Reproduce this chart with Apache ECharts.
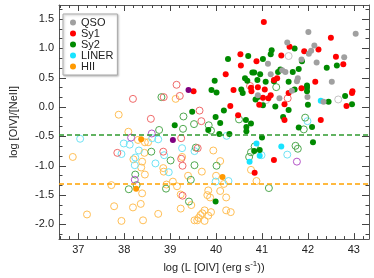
<!DOCTYPE html>
<html><head><meta charset="utf-8">
<script src="https://cdn.jsdelivr.net/npm/echarts@6/dist/echarts.min.js"></script>
<style>html,body{margin:0;padding:0;background:#fff}#c{width:374px;height:278px}</style>
</head><body><div id="c"></div>
<script>
// ---- data ----
const xTickLabels = [37, 38, 39, 40, 41, 42, 43];
const yTickLabels = [-2.0, -1.5, -1.0, -0.5, 0.0, 0.5, 1.0, 1.5];
const refLines = [-0.47, -1.31];

const qsoFilled = [[41.55,1.10],[42.01,1.28],[43.04,1.25],[42.14,1.05],[42.07,0.96],[42.02,0.91],[42.79,0.85],[41.86,0.81],[42.19,0.76],[41.13,0.74],[41.19,0.56],[41.44,0.63],[41.51,0.60],[41.78,0.49],[41.76,0.44],[42.52,0.43],[41.65,0.28],[40.91,0.20],[41.38,0.15],[41.99,0.17],[42.34,0.09]];
const qsoOpen = [[41.58,0.87],[42.66,0.13],[41.09,0.12]];

const sy1Filled = [[41.04,1.45],[41.60,1.03],[42.50,1.18],[42.23,0.98],[41.92,0.95],[40.53,0.90],[41.42,0.88],[42.61,0.86],[40.88,0.78],[40.54,0.71],[42.77,0.73],[40.21,0.56],[39.51,0.27],[40.38,0.29],[40.76,0.33],[40.77,0.27],[40.91,0.34],[41.06,0.30],[41.33,0.49],[41.26,0.46],[42.16,0.43],[41.86,0.32],[41.58,0.24],[41.19,0.20],[41.14,0.15],[41.02,0.16],[40.94,0.04],[41.49,0.05],[42.97,0.27],[42.96,0.24],[42.84,0.02],[40.31,0.02],[40.48,-0.14],[41.49,-0.22],[42.28,-0.22],[41.26,-0.90],[40.84,-1.12]];
const sy1Open = [[39.14,0.38],[39.21,0.19],[38.86,0.17],[38.19,0.14],[39.64,-0.06],[39.68,-0.24],[38.58,-0.20],[39.24,-0.53],[37.85,-0.78],[38.85,-0.76],[39.24,-0.88],[39.27,-1.00],[39.27,-1.51],[39.60,-0.70],[40.74,0.36],[41.56,0.15]];

const sy2Filled = [[41.71,1.00],[41.21,0.97],[41.19,0.90],[40.70,0.87],[40.26,0.82],[41.02,0.82],[41.87,0.78],[42.41,0.67],[42.63,0.71],[40.79,0.59],[40.83,0.59],[40.63,0.49],[40.68,0.45],[40.90,0.46],[40.96,0.56],[39.97,0.45],[41.40,0.64],[41.35,0.60],[41.67,0.60],[41.80,0.65],[41.58,0.43],[41.08,0.43],[41.26,0.44],[39.90,0.29],[40.01,0.25],[40.55,0.30],[40.58,0.24],[41.98,0.37],[41.98,0.33],[41.98,0.27],[41.71,0.30],[40.86,0.13],[40.91,0.17],[41.02,0.03],[41.29,0.01],[42.00,0.04],[42.45,0.09],[42.81,0.19],[42.96,0.05],[41.58,-0.05],[39.48,-0.08],[40.17,-0.06],[39.99,-0.17],[40.65,-0.22],[40.09,-0.27],[40.76,-0.28],[39.10,-0.31],[40.66,-0.34],[39.83,-0.39],[40.07,-0.46],[40.29,-0.46],[40.66,-0.41],[41.46,-0.17],[41.80,-0.35],[42.09,-0.34],[42.11,-0.60],[41.00,-0.52],[40.83,-0.75],[40.95,-0.73],[39.99,-1.61]];
const sy2Open = [[38.81,0.17],[39.29,-0.16],[39.28,-0.37],[39.52,-0.29],[39.84,-0.31],[39.89,-0.40],[38.76,-0.39],[40.50,-0.21],[41.31,0.34],[41.94,-0.18],[41.91,-0.38],[41.73,-0.66],[41.78,-0.71],[40.76,-0.77],[40.72,-0.85],[40.84,-0.67],[41.15,-1.38],[39.53,-0.99],[40.01,-1.00],[39.01,-0.91],[38.59,-0.76],[38.91,-1.39],[38.24,-1.15],[38.27,-1.33],[38.10,-1.40],[39.45,-1.24],[39.41,-1.61],[39.56,-0.69]];

const linerFilled = [[42.28,0.11],[40.88,-0.62],[40.73,-0.93],[40.95,-0.83],[41.42,-0.67]];
const linerOpen = [[41.99,-0.24],[37.04,-0.54],[37.99,-0.62],[38.12,-0.64],[37.94,-0.80],[38.32,-0.74],[38.24,-0.86],[38.23,-0.99],[38.68,-0.96],[38.87,-0.82],[38.97,-1.11],[39.26,-0.70],[39.53,-0.75],[38.74,-0.55],[40.23,-0.49],[39.99,-1.27],[40.27,-1.26],[41.55,-0.81],[40.99,-0.82],[38.61,-0.53]];

const hiiFilled = [[38.37,-0.55],[38.26,-1.39],[40.14,-1.19]];
const hiiOpen = [[36.88,-0.85],[37.19,-1.83],[37.88,-0.13],[39.12,0.14],[38.09,-0.42],[38.30,-0.56],[38.45,-0.60],[38.52,-0.60],[38.44,-0.78],[38.20,-0.89],[38.39,-0.93],[38.37,-1.03],[38.45,-1.15],[37.72,-1.33],[38.39,-1.47],[37.78,-1.69],[38.19,-1.71],[38.36,-1.65],[37.94,-1.94],[38.41,-1.93],[38.74,-1.82],[38.85,-1.04],[38.86,-1.10],[38.92,-1.32],[39.06,-1.27],[39.15,-1.35],[39.23,-1.49],[39.23,-1.73],[39.46,-1.67],[39.26,-0.85],[39.39,-1.17],[39.69,-1.10],[39.83,-1.42],[39.81,-1.50],[39.87,-1.54],[40.22,-1.54],[39.75,-1.76],[39.70,-1.81],[39.89,-1.79],[39.66,-1.84],[39.62,-1.89],[39.59,-1.93],[39.53,-1.93],[39.75,-1.94],[39.83,-1.85],[40.22,-1.76],[40.32,-1.79],[39.94,-0.74],[40.00,-1.17],[40.09,-1.43],[40.09,-0.92],[40.17,-1.31],[40.76,-1.07],[40.88,-1.26]];

const otherFilled = [[39.40,0.29],[39.06,-0.56]];
const otherOpen = [[38.15,-0.52],[38.60,-0.45],[38.23,-1.24],[41.76,-0.93]];

// ---- layout ----
const X_MIN = 36.58, X_MAX = 43.33, Y_MIN = -2.25, Y_MAX = 1.74;
const xMinor = []; for (let v = 36.6; v < X_MAX; v += 0.2) xMinor.push(+v.toFixed(2));
const yMinor = []; for (let k = -14; k <= 10; k++) yMinor.push(+(k / 6).toFixed(4));
const frame = '#555';
const tickC = '#444';

function xAx(pos, ticks, len, labels, line) {
  return { type: 'value', gridIndex: 0, min: X_MIN, max: X_MAX, position: pos,
    axisLine: { show: line, onZero: false, lineStyle: { color: frame, width: 1 } },
    axisTick: { show: true, inside: true, length: len, customValues: ticks, lineStyle: { color: tickC } },
    axisLabel: labels ? { show: true, customValues: xTickLabels, margin: 5, color: '#222', fontSize: 11, fontFamily: 'Liberation Sans' } : { show: false },
    splitLine: { show: false } };
}
function yAx(pos, ticks, len, labels, line) {
  return { type: 'value', gridIndex: 0, min: Y_MIN, max: Y_MAX, position: pos,
    axisLine: { show: line, onZero: false, lineStyle: { color: frame, width: 1 } },
    axisTick: { show: true, inside: true, length: len, customValues: ticks, lineStyle: { color: tickC } },
    axisLabel: labels ? { show: true, customValues: yTickLabels, margin: 5, color: '#222', fontSize: 11, fontFamily: 'Liberation Sans', formatter: v => v.toFixed(1) } : { show: false },
    splitLine: { show: false } };
}

const xAxes = [xAx('bottom', xTickLabels, 6, true, true), xAx('bottom', xMinor, 3, false, false), xAx('top', xTickLabels, 6, false, true), xAx('top', xMinor, 3, false, false)];
xAxes[0].name = '{t|log (L [OIV] (erg s}{sup|-1}{t|))}';
xAxes[0].nameLocation = 'middle';
xAxes[0].nameGap = 12;
xAxes[0].nameTextStyle = { color: '#222', fontSize: 11, fontFamily: 'Liberation Sans',
  rich: {
    t: { fontSize: 11, fontFamily: 'Liberation Sans', color: '#222', lineHeight: 16, verticalAlign: 'bottom' },
    sup: { fontSize: 8, fontFamily: 'Liberation Sans', color: '#222', lineHeight: 16, verticalAlign: 'bottom', padding: [0, 0, 5, 0] }
  } };
const yAxes = [yAx('left', yTickLabels, 7, true, true), yAx('left', yMinor, 3.5, false, false), yAx('right', yTickLabels, 7, false, true), yAx('right', yMinor, 3.5, false, false)];
yAxes[0].name = 'log [OIV]/[NeII]';
yAxes[0].nameLocation = 'middle';
yAxes[0].nameGap = 40;
yAxes[0].nameTextStyle = { color: '#222', fontSize: 11, fontFamily: 'Liberation Sans' };

function sc(name, data, color, filled) {
  return { type: 'scatter', name: name, data: data, xAxisIndex: 0, yAxisIndex: 0,
    symbol: 'circle', symbolSize: filled ? 6 : 7, silent: true,
    itemStyle: filled ? { color: color, opacity: 1 } : { color: 'rgba(0,0,0,0)', borderColor: color, borderWidth: 1, opacity: 1 },
    emphasis: { disabled: true } };
}

const series = [
  { type: 'scatter', name: 'refs', data: [], xAxisIndex: 0, yAxisIndex: 0, silent: true,
    markLine: { silent: true, symbol: 'none', animation: false, label: { show: false },
      data: [
        { yAxis: refLines[0], lineStyle: { color: '#2f9a2f', type: [5, 3], width: 1.5 } },
        { yAxis: refLines[1], lineStyle: { color: '#ffa200', type: [5, 3], width: 1.5 } }
      ] } },
  sc('HII open', hiiOpen, '#ffbf55', false),
  sc('LINER open', linerOpen, '#6fe3f5', false),
  sc('Sy2 open', sy2Open, '#4fa84f', false),
  sc('Sy1 open', sy1Open, '#f06a6a', false),
  sc('QSO open', qsoOpen, '#c4c4c4', false),
  sc('other open', otherOpen, '#b455c8', false),
  sc('HII', hiiFilled, '#ff9900', true),
  sc('LINER', linerFilled, '#19e3ff', true),
  sc('Sy2', sy2Filled, '#008a00', true),
  sc('Sy1', sy1Filled, '#ff0000', true),
  sc('QSO', qsoFilled, '#a0a0a0', true),
  sc('other', otherFilled, '#800080', true)
];

const chart = echarts.init(document.getElementById('c'), null, { renderer: 'canvas' });
chart.setOption({
  animation: false,
  backgroundColor: '#fff',
  grid: { left: 57, right: 5, top: 5, bottom: 33, containLabel: false },
  xAxis: xAxes,
  yAxis: yAxes,
  legend: { data: ['QSO', 'Sy1', 'Sy2', 'LINER', 'HII'], orient: 'vertical', left: 63, top: 14,
    icon: 'circle', itemWidth: 6, itemHeight: 6, itemGap: 0,
    padding: [3, 4, 3, 7], borderColor: '#aaa', borderWidth: 1, backgroundColor: '#fff',
    shadowColor: 'rgba(0,0,0,0.25)', shadowOffsetX: 1, shadowOffsetY: 1, shadowBlur: 2,
    textStyle: { color: '#222', fontSize: 11, fontFamily: 'Liberation Sans', lineHeight: 11 },
    selectedMode: false },
  series: series
});
</script></body></html>
